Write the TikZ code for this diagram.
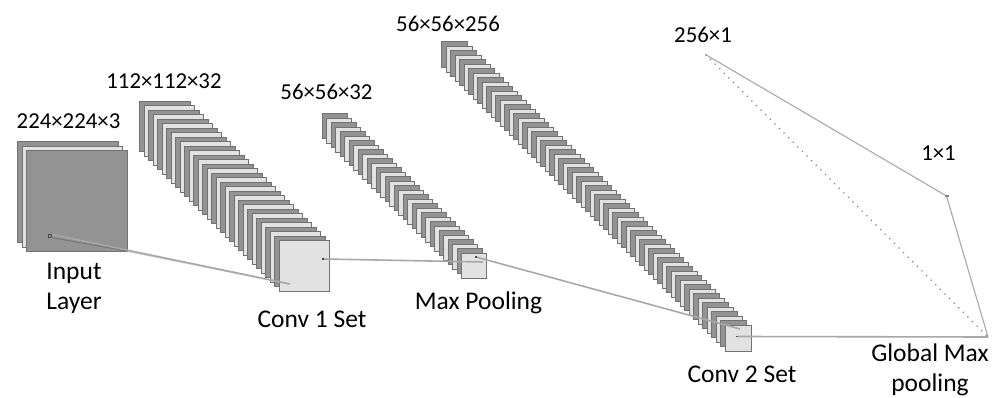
\documentclass[tikz,border=0pt]{standalone}
\usepackage{fontspec}
\setmainfont{Carlito}
\definecolor{layerdark}{HTML}{939393}
\definecolor{layerlight}{HTML}{E2E2E2}
\definecolor{edgegray}{HTML}{727272}
\definecolor{linkgray}{HTML}{A8A8A8}
\tikzset{
  darksheet/.style={draw=edgegray,fill=layerdark,line width=0.8pt},
  lightsheet/.style={draw=edgegray,fill=layerlight,line width=0.8pt},
  link/.style={draw=linkgray,line width=1.6pt},
  thinlink/.style={draw=linkgray,line width=1.1pt},
  dotlink/.style={draw=gray,line width=1.2pt,dash pattern=on 1.2pt off 5.3pt},
  lbl/.style={font=\fontsize{22.8}{26}\selectfont,text=black,inner sep=0pt,align=center},
  biglbl/.style={font=\fontsize{25.5}{30}\selectfont,text=black,inner sep=0pt,align=center},
  tick/.style={fill=black!70,inner sep=0pt,minimum size=2pt}
}
% x y size steps
\newcommand{\sheetstack}[4]{%
  \foreach \i in {0,...,#4}{%
    \pgfmathsetmacro{\sx}{#1+\i*4.5}%
    \pgfmathsetmacro{\sy}{#2+\i*4.5}%
    \pgfmathtruncatemacro{\odd}{mod(\i,2)}%
    \ifnum\odd=0
      \draw[darksheet] (\sx,\sy) rectangle ++(#3,#3);
    \else
      \draw[lightsheet] (\sx,\sy) rectangle ++(#3,#3);
    \fi
  }%
}
\begin{document}
\begin{tikzpicture}[x=1pt,y=-1pt]
\useasboundingbox (0,0) rectangle (999,398);
% input
\draw[darksheet] (17.5,141.5) rectangle ++(100.5,101);
\draw[lightsheet] (22,146) rectangle ++(100.5,101);
\draw[darksheet] (26,150) rectangle ++(101,101);
% stacks
\sheetstack{139.5}{101}{50.5}{31}
\sheetstack{322}{113.5}{25}{31}
\sheetstack{441.5}{41.5}{26}{63}
% markers
\node[draw=black!70,fill=layerdark,line width=0.7pt,inner sep=0pt,minimum size=3.6pt] (inpatch) at (50,236) {};
\coordinate (inA) at (52,234.5);
\coordinate (inB) at (51,237.5);
\coordinate (incorner) at (127,251);
\coordinate (c1end) at (290,284);
\node[tick] (c1dot) at (323,259) {};
\coordinate (mpend) at (483,262);
\node[tick,minimum size=1.8pt] (mpdot) at (476,257) {};
\coordinate (c2end) at (740,329);
\node[tick,minimum size=1.6pt] (c2dot) at (737,336.5) {};
\coordinate (gmp) at (988,337);
\node[fill=gray,inner sep=0pt,minimum width=4pt,minimum height=1.4pt] (oneone) at (946.5,196) {};
\coordinate (top) at (705.5,54.5);
% links
\draw[draw=black!55,line width=0.8pt] (inA) -- (incorner);
\draw[draw=black!55,line width=0.8pt] (inB) -- (incorner);
\draw[link] (inA) -- (c1end);
\draw[link,opacity=0.6] (incorner) -- (c1end);
\draw[link] (c1dot) -- (mpend);
\draw[link] (mpdot) -- (c2end);
\draw[link] (c2dot) -- (gmp);
\draw[thinlink] (top) -- (oneone);
\draw[thinlink] (oneone) -- (gmp);
\draw[dotlink] (top) -- (gmp);
% labels
\node[lbl] (t1) at (68.5,121) {224×224×3};
\node[lbl] (t2) at (164,81) {112×112×32};
\node[lbl] (t3) at (326.5,92) {56×56×32};
\node[lbl] (t4) at (448,24) {56×56×256};
\node[lbl] (t5) at (703,35) {256×1};
\node[lbl] (t6) at (938.5,153) {1×1};
\node[biglbl] (t7) at (74,288) {Input\\Layer};
\node[biglbl] (t8) at (312,319) {Conv 1 Set};
\node[biglbl] (t9) at (478.5,303) {Max Pooling};
\node[biglbl] (t10) at (742,374) {Conv 2 Set};
\node[biglbl] (t11) at (930,370) {Global Max\\pooling};
\end{tikzpicture}
\end{document}
